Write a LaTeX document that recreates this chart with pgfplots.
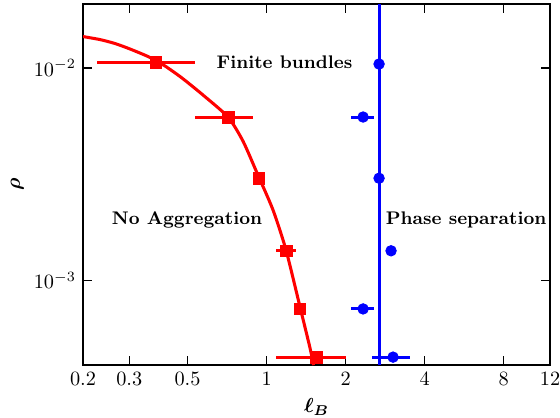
\documentclass[border=0pt]{standalone}
\usepackage{pgfplots}
\pgfplotsset{compat=1.18}
\usepackage{bm}
\begin{document}
\begin{tikzpicture}
\useasboundingbox (-40.9pt,-25.6pt) rectangle (234.9pt,179.8pt);
\begin{axis}[
  at={(0pt,0pt)}, anchor=south west,
  scale only axis, width=230pt, height=177.8pt,
  xmode=log, ymode=log,
  xmin=0.2, xmax=12, ymin=4e-4, ymax=0.02,
  xtick={0.2,0.3,0.5,1,2,4,8,12},
  xticklabels={0.2,0.3,0.5,1,2,4,8,12},
  ytick={1e-3,1e-2},
  xminorticks=false, yminorticks=false,
  axis line style={line width=0.8pt},
  major tick style={line width=0.6pt, black},
  xlabel={$\bm{\ell_B}$},
  ylabel={$\bm{\rho}$},
  xlabel style={yshift=1pt},
  ylabel style={yshift=-2pt},
  clip=true,
]
% fitted curve
\addplot[red, line width=1.5pt, smooth, tension=0.4] coordinates {
(0.2000,0.01406) (0.2320,0.01361) (0.2647,0.01304) (0.3018,0.01229)
(0.3566,0.01127) (0.4103,0.01022) (0.4764,0.00897) (0.5728,0.00746)
(0.7129,0.00588) (0.8128,0.00453) (0.9191,0.00321) (1.0577,0.002147)
(1.1855,0.00139) (1.3405,0.000750) (1.4631,0.000481) (1.5084,0.000400)
};
% red squares with x error bars
\addplot[red, only marks, mark=square*, mark size=2.9pt,
  error bars/.cd, x dir=both, x explicit, error mark=none,
  error bar style={line width=1.5pt, red}] coordinates {
(0.379,0.0106) +- (0.153,0)
(0.713,0.00588) +- (0.177,0)
(0.935,0.00303) +- (0,0)
(1.186,0.00138) +- (0.104,0)
(1.340,0.000735) +- (0,0)
(1.546,0.000436) +- (0.462,0)
};
% blue vertical line
\addplot[blue, line width=1.5pt] coordinates {(2.68,4e-4) (2.68,0.02)};
% blue circles with x error bars
\addplot[blue, only marks, mark=*, mark size=2.6pt,
  error bars/.cd, x dir=both, x explicit, error mark=none,
  error bar style={line width=1.5pt, blue}] coordinates {
(2.68,0.01044) +- (0,0)
(2.33,0.00588) +- (0.24,0)
(2.68,0.00303) +- (0,0)
(2.977,0.00138) +- (0,0)
(2.33,0.000735) +- (0.24,0)
(3.03,0.000436) +- (0.50,0)
};
\node[font=\small] at (axis cs:1.17,0.01067) {\textbf{Finite bundles}};
\node[font=\small] at (axis cs:0.498,0.00193) {\textbf{No Aggregation}};
\node[font=\small] at (axis cs:5.75,0.00193) {\textbf{Phase separation}};
\end{axis}
\end{tikzpicture}
\end{document}
